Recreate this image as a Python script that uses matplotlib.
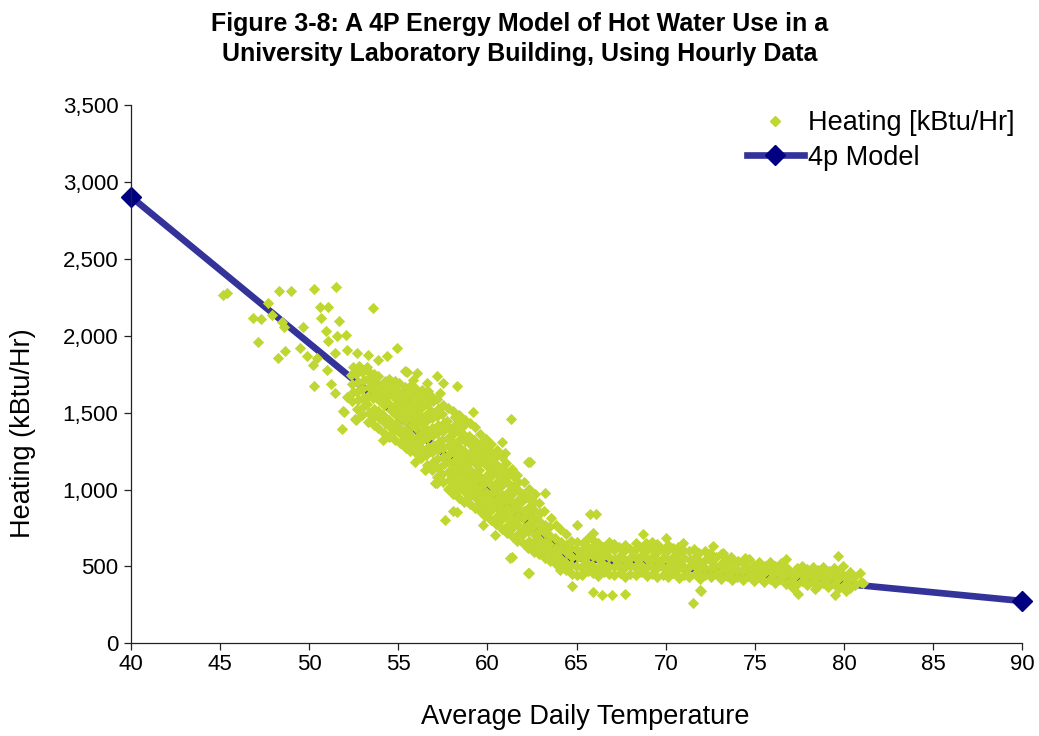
import matplotlib
matplotlib.use("Agg")
import matplotlib.pyplot as plt
import numpy as np
from matplotlib.ticker import FuncFormatter, MultipleLocator
from matplotlib.lines import Line2D

plt.rcParams['font.family'] = ['Liberation Sans', 'DejaVu Sans']

# ---- 4-parameter change-point model (temperature, heating) ----
model_temp = [40.0, 64.6, 90.0]
model_heat = [2905, 560, 275]

# ---- Measured heating vs. average daily temperature ----
# cold days, sparse tail (below ~53 F)
cold_days = [
    (45.16, 2264), (45.39, 2277), (48.31, 2290), (48.98, 2290), (50.27, 2303),
    (51.50, 2316), (47.69, 2212), (47.91, 2134), (46.85, 2114), (47.30, 2108),
    (50.61, 2186), (51.06, 2186), (53.58, 2180), (50.66, 2114), (51.67, 2095),
    (48.47, 2088), (48.59, 2056), (49.65, 2056), (50.94, 2030), (51.56, 1997),
    (52.06, 2004), (51.06, 1965), (47.13, 1958), (48.64, 1900), (48.25, 1854),
    (49.48, 1919), (49.88, 1867), (50.44, 1854), (50.21, 1809), (51.45, 1887),
    (52.12, 1906), (52.68, 1887), (53.30, 1874), (53.86, 1841), (54.37, 1867),
    (54.93, 1919), (50.27, 1672), (51.00, 1776), (51.22, 1685), (51.45, 1626),
    (52.12, 1600), (51.95, 1503), (52.63, 1451), (51.84, 1392), (52.96, 1763),
    (53.24, 1796), (51.90, 1509), (52.57, 1457),
]

# transition band, 52-57 F
cool_days = [
    (52.38, 1578), (52.45, 1633), (52.41, 1688), (52.36, 1748), (52.47, 1796),
    (52.66, 1522), (52.74, 1584), (52.69, 1637), (52.72, 1702), (52.65, 1751), (52.78, 1803),
    (52.97, 1482), (53.05, 1546), (53.01, 1598), (52.95, 1655), (53.08, 1712), (53.02, 1769),
    (53.28, 1441), (53.34, 1497), (53.25, 1559), (53.31, 1606), (53.36, 1668), (53.27, 1718), (53.33, 1762),
    (53.62, 1423), (53.55, 1472), (53.66, 1527), (53.58, 1593), (53.64, 1638), (53.57, 1704), (53.61, 1752),
    (53.87, 1402), (53.93, 1463), (53.85, 1508), (53.96, 1574), (53.89, 1622), (53.92, 1683), (53.86, 1737),
    (54.18, 1371), (54.24, 1434), (54.16, 1487), (54.22, 1548), (54.27, 1597), (54.19, 1659), (54.23, 1706),
    (54.47, 1342), (54.53, 1404), (54.49, 1452), (54.56, 1518), (54.44, 1566), (54.51, 1628), (54.55, 1677), (54.48, 1718),
    (54.83, 1322), (54.77, 1383), (54.85, 1428), (54.79, 1493), (54.82, 1541), (54.76, 1604), (54.86, 1648), (54.81, 1703),
    (55.08, 1302), (55.14, 1363), (55.06, 1408), (55.12, 1473), (55.17, 1517), (55.09, 1578), (55.13, 1627), (55.05, 1692),
    (55.42, 1272), (55.36, 1334), (55.44, 1387), (55.39, 1443), (55.46, 1497), (55.37, 1558), (55.43, 1607), (55.38, 1668),
    (55.68, 1252), (55.73, 1308), (55.66, 1362), (55.74, 1423), (55.69, 1472), (55.71, 1533), (55.65, 1582), (55.76, 1643), (55.70, 1683),
    (56.02, 1232), (55.96, 1293), (56.05, 1337), (55.98, 1398), (56.03, 1447), (55.97, 1508), (56.06, 1557), (56.01, 1618), (55.95, 1662),
    (56.28, 1203), (56.34, 1262), (56.26, 1318), (56.32, 1367), (56.36, 1428), (56.27, 1477), (56.33, 1538), (56.29, 1587), (56.35, 1648),
    (56.62, 1162), (56.57, 1223), (56.65, 1277), (56.59, 1338), (56.63, 1387), (56.56, 1448), (56.64, 1497), (56.58, 1558), (56.61, 1607), (56.67, 1642),
    (56.88, 1127), (56.94, 1178), (56.86, 1243), (56.92, 1292), (56.95, 1353), (56.87, 1402), (56.91, 1463), (56.85, 1512), (56.93, 1573), (56.89, 1602),
    (55.49, 1763), (56.05, 1757), (56.61, 1692), (55.38, 1770), (55.82, 1711),
    (54.14, 1321), (55.38, 1321), (55.94, 1178), (56.50, 1126),
]

# steepest part of the band, 57-61 F
mild_days = [
    (57.17, 1082), (57.23, 1143), (57.15, 1197), (57.21, 1258), (57.26, 1307), (57.18, 1368), (57.24, 1417), (57.16, 1478), (57.22, 1527), (57.19, 1588),
    (57.52, 1047), (57.46, 1098), (57.54, 1163), (57.48, 1212), (57.53, 1273), (57.45, 1322), (57.51, 1383), (57.56, 1432), (57.47, 1493), (57.50, 1552),
    (57.78, 1003), (57.84, 1062), (57.76, 1117), (57.82, 1178), (57.77, 1227), (57.85, 1288), (57.79, 1337), (57.83, 1398), (57.75, 1447), (57.81, 1532),
    (58.08, 972), (58.14, 1033), (58.06, 1082), (58.12, 1143), (58.16, 1192), (58.07, 1253), (58.13, 1302), (58.05, 1363), (58.11, 1412), (58.15, 1473), (58.09, 1508),
    (58.42, 947), (58.36, 998), (58.44, 1058), (58.38, 1107), (58.43, 1168), (58.35, 1217), (58.41, 1278), (58.46, 1327), (58.37, 1388), (58.45, 1437), (58.39, 1488),
    (58.68, 922), (58.74, 983), (58.66, 1032), (58.72, 1093), (58.67, 1142), (58.75, 1203), (58.69, 1252), (58.73, 1313), (58.65, 1362), (58.71, 1423), (58.76, 1452),
    (59.02, 907), (58.96, 958), (59.05, 1018), (58.98, 1067), (59.03, 1128), (58.95, 1177), (59.01, 1238), (59.06, 1287), (58.97, 1348), (59.04, 1432),
    (59.28, 882), (59.34, 943), (59.26, 992), (59.32, 1053), (59.27, 1102), (59.35, 1163), (59.29, 1212), (59.33, 1273), (59.25, 1322), (59.31, 1408),
    (59.62, 857), (59.56, 907), (59.64, 968), (59.58, 1017), (59.63, 1078), (59.55, 1127), (59.61, 1188), (59.66, 1237), (59.57, 1298), (59.60, 1362),
    (59.88, 827), (59.94, 878), (59.86, 938), (59.92, 987), (59.87, 1048), (59.95, 1097), (59.89, 1158), (59.93, 1207), (59.85, 1268), (59.91, 1332),
    (60.22, 803), (60.16, 863), (60.24, 912), (60.18, 973), (60.23, 1022), (60.15, 1083), (60.21, 1132), (60.26, 1193), (60.17, 1242), (60.20, 1298),
    (60.48, 778), (60.54, 827), (60.46, 888), (60.52, 937), (60.47, 998), (60.55, 1047), (60.49, 1108), (60.53, 1157), (60.45, 1218), (60.51, 1257),
    (60.82, 743), (60.76, 803), (60.84, 852), (60.78, 913), (60.83, 962), (60.75, 1023), (60.81, 1072), (60.86, 1133), (60.79, 1212),
    (57.51, 1692), (58.29, 1672), (57.17, 1737), (57.34, 1627), (58.18, 1470), (59.19, 1503),
    (60.82, 1308), (60.99, 1236), (57.17, 1041), (57.06, 1041), (57.62, 800), (58.07, 859),
    (58.29, 852), (59.75, 768), (60.43, 703),
]

# flattening toward the balance point, 61-64.5 F
warm_days = [
    (61.08, 718), (61.14, 767), (61.06, 828), (61.12, 877), (61.07, 938), (61.15, 987), (61.09, 1048), (61.13, 1097), (61.05, 1172),
    (61.42, 693), (61.36, 753), (61.44, 802), (61.38, 863), (61.43, 912), (61.35, 973), (61.41, 1022), (61.46, 1083), (61.37, 1132),
    (61.68, 668), (61.74, 717), (61.66, 778), (61.72, 827), (61.67, 888), (61.75, 937), (61.69, 998), (61.73, 1047), (61.65, 1093),
    (62.02, 643), (61.96, 703), (62.05, 752), (61.98, 813), (62.03, 862), (61.95, 923), (62.01, 972), (62.06, 1052),
    (62.28, 618), (62.34, 667), (62.26, 728), (62.32, 777), (62.27, 838), (62.35, 887), (62.29, 948), (62.33, 1003),
    (62.62, 593), (62.56, 653), (62.64, 702), (62.58, 763), (62.63, 812), (62.55, 873), (62.61, 922), (62.66, 968),
    (62.88, 578), (62.94, 627), (62.86, 688), (62.92, 737), (62.87, 798), (62.95, 847), (62.89, 912),
    (63.22, 553), (63.16, 613), (63.24, 662), (63.18, 723), (63.23, 772), (63.15, 862),
    (63.48, 533), (63.54, 587), (63.46, 648), (63.52, 697), (63.47, 758), (63.55, 812),
    (63.82, 513), (63.76, 573), (63.84, 622), (63.78, 683), (63.83, 772),
    (64.08, 493), (64.14, 547), (64.06, 608), (64.12, 657), (64.07, 742),
    (64.42, 478), (64.36, 527), (64.44, 588), (64.38, 637), (64.43, 712),
    (61.32, 1457), (62.39, 1178), (62.28, 1178), (63.23, 976),
    (61.38, 560), (62.84, 605), (62.33, 455), (64.07, 475), (61.27, 553), (62.28, 455),
]

# base load above the change point, 64.5-81 F
hot_days = [
    (64.72, 452), (64.68, 508), (64.75, 561), (64.66, 617), (64.71, 668),
    (65.02, 447), (64.97, 503), (65.05, 558), (64.99, 611), (65.04, 662), (65.03, 768),
    (65.31, 441), (65.27, 497), (65.34, 552), (65.29, 606), (65.33, 655),
    (65.62, 468), (65.57, 522), (65.64, 577), (65.58, 631), (65.63, 683),
    (65.91, 455), (65.87, 511), (65.94, 566), (65.88, 620), (65.92, 672),
    (66.22, 437), (66.17, 492), (66.24, 548), (66.18, 603), (66.21, 654),
    (66.52, 462), (66.47, 518), (66.54, 573), (66.48, 628),
    (66.81, 449), (66.77, 503), (66.84, 559), (66.78, 612), (66.82, 660),
    (67.12, 441), (67.07, 496), (67.14, 551), (67.08, 607), (67.11, 648),
    (67.42, 457), (67.37, 512), (67.44, 568), (67.38, 623),
    (67.72, 432), (67.67, 487), (67.74, 543), (67.68, 597), (67.71, 641),
    (68.02, 451), (67.97, 506), (68.04, 561), (67.98, 615),
    (68.32, 443), (68.27, 499), (68.34, 553), (68.28, 608), (68.31, 650),
    (68.62, 462), (68.57, 517), (68.64, 572), (68.58, 624),
    (68.92, 437), (68.87, 492), (68.94, 546), (68.88, 601), (68.91, 655),
    (69.22, 452), (69.17, 507), (69.24, 563), (69.18, 617),
    (69.52, 428), (69.47, 483), (69.54, 538), (69.48, 593), (69.51, 646),
    (69.82, 447), (69.77, 502), (69.84, 557), (69.78, 611),
    (70.12, 433), (70.07, 488), (70.14, 543), (70.08, 598), (70.11, 640),
    (70.42, 456), (70.37, 511), (70.44, 566), (70.38, 618),
    (70.72, 426), (70.67, 481), (70.74, 536), (70.68, 590), (70.71, 627),
    (71.02, 445), (70.97, 500), (71.04, 555), (70.98, 609),
    (71.32, 432), (71.27, 487), (71.34, 542), (71.28, 597),
    (71.62, 453), (71.57, 508), (71.64, 563), (71.58, 615),
    (71.92, 420), (71.87, 475), (71.94, 530), (71.88, 585),
    (72.22, 441), (72.17, 496), (72.24, 551), (72.18, 603),
    (72.52, 428), (72.47, 483), (72.54, 538), (72.48, 590),
    (72.82, 448), (72.77, 503), (72.84, 558),
    (73.12, 415), (73.07, 470), (73.14, 525), (73.08, 580),
    (73.42, 437), (73.37, 492), (73.44, 547),
    (73.72, 409), (73.67, 464), (73.74, 519), (73.68, 562),
    (74.02, 430), (73.97, 485), (74.04, 533),
    (74.32, 412), (74.27, 467), (74.34, 520),
    (74.62, 440), (74.57, 492), (74.64, 548),
    (74.92, 404), (74.87, 459), (74.94, 511),
    (75.22, 428), (75.17, 483), (75.24, 530),
    (75.52, 398), (75.47, 453), (75.54, 505),
    (75.82, 421), (75.77, 476), (75.84, 528),
    (76.12, 393), (76.07, 448), (76.14, 500),
    (76.42, 415), (76.37, 470), (76.44, 522),
    (76.72, 387), (76.67, 442), (76.74, 494), (76.76, 546),
    (77.02, 409), (76.97, 464),
    (77.32, 381), (77.27, 436), (77.34, 488),
    (77.62, 402), (77.57, 457), (77.64, 505),
    (77.92, 376), (77.87, 431), (77.94, 482),
    (78.22, 397), (78.17, 452), (78.24, 498),
    (78.52, 372), (78.47, 426), (78.54, 478),
    (78.82, 392), (78.77, 447), (78.84, 495),
    (79.12, 366), (79.07, 421), (79.14, 473),
    (79.42, 387), (79.37, 442), (79.44, 489),
    (79.72, 361), (79.67, 416), (79.74, 468), (79.67, 566),
    (80.02, 382), (79.97, 437), (79.96, 501),
    (80.32, 358), (80.27, 412), (80.34, 463),
    (80.62, 378), (80.57, 433),
    (80.90, 455), (80.95, 398),
    # scattered highs and lows
    (65.76, 839), (66.09, 839), (65.93, 716), (68.73, 709), (70.02, 683),
    (69.24, 657), (70.98, 651), (72.66, 631), (73.22, 586), (74.46, 553),
    (64.75, 371), (65.90, 332), (66.40, 312), (67.00, 312), (67.70, 319),
    (71.50, 260), (71.90, 345), (72.00, 338), (77.43, 319), (78.38, 351),
    (79.50, 312), (80.12, 338), (81.08, 390), (77.15, 358),
]

readings = np.array(cold_days + cool_days + mild_days + warm_days + hot_days)
temp = readings[:, 0]
heat = readings[:, 1]

scatter_color = '#BFD730'
line_color = '#333399'
marker_color = '#000080'

fig = plt.figure(figsize=(10.39, 7.36), dpi=100)
ax = fig.add_axes([0.126, 0.126, 0.858, 0.731])

ax.plot(model_temp, model_heat, color=line_color, lw=4.8, marker='D', ms=10,
        mfc=marker_color, mec=marker_color, zorder=2, clip_on=False,
        solid_capstyle='butt')
ax.scatter(temp, heat, marker='D', s=33, color=scatter_color, linewidths=0,
           zorder=3, clip_on=False)

ax.set_xlim(40, 90)
ax.set_ylim(0, 3500)
ax.xaxis.set_major_locator(MultipleLocator(5))
ax.yaxis.set_major_locator(MultipleLocator(500))
ax.yaxis.set_major_formatter(FuncFormatter(lambda v, p: f'{int(v):,}'))

for side in ('top', 'right'):
    ax.spines[side].set_visible(False)
for side in ('left', 'bottom'):
    ax.spines[side].set_color('#222222')
    ax.spines[side].set_linewidth(0.9)
ax.tick_params(direction='out', length=5, width=0.9, color='#222222',
               labelsize=16)
ax.tick_params(axis='y', pad=4)
ax.tick_params(axis='x', pad=3)

ax.set_xlabel('Average Daily Temperature', fontsize=19.5)
ax.xaxis.set_label_coords(0.51, -0.113)
ax.set_ylabel('Heating (kBtu/Hr)', fontsize=19.5)
ax.yaxis.set_label_coords(-0.106, 0.39)

fig.text(0.5, 0.968, 'Figure 3-8: A 4P Energy Model of Hot Water Use in a',
         ha='center', va='center', fontsize=18, fontweight='bold')
fig.text(0.5, 0.927, 'University Laboratory Building, Using Hourly Data',
         ha='center', va='center', fontsize=18, fontweight='bold')

handles = [
    Line2D([], [], ls='none', marker='D', ms=5.5, mfc=scatter_color, mec=scatter_color),
    Line2D([], [], color=line_color, lw=4.8, marker='D', ms=10,
           mfc=marker_color, mec=marker_color),
]
ax.legend(handles, ['Heating [kBtu/Hr]', '4p Model'], loc='upper left',
          bbox_to_anchor=(0.719, 0.850), bbox_transform=fig.transFigure,
          frameon=False, fontsize=19.5, handlelength=2.1, handletextpad=0.15,
          borderpad=0, borderaxespad=0, labelspacing=0.3)

fig.savefig('out.png', dpi=100)
